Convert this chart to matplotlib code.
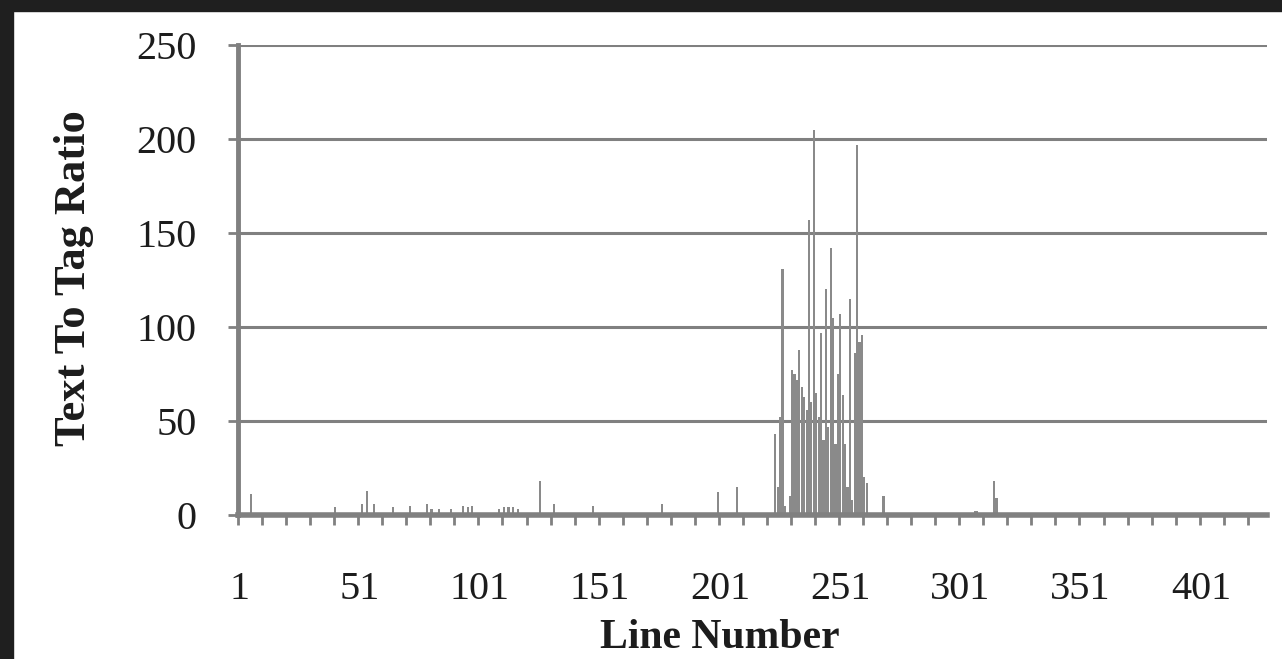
import matplotlib
matplotlib.use("Agg")
import matplotlib.pyplot as plt
from matplotlib.patches import Rectangle
import numpy as np

# ---- data -------------------------------------------------------------
n_lines = 428
# (line number, text-to-tag ratio) for non-zero lines
line_numbers = [6, 41, 52, 54, 57, 65, 72, 79, 81, 84, 89, 94, 96, 98, 109, 111,
                113, 115, 117, 126, 132, 148, 177, 200, 208,
                224, 225, 226, 227, 228, 230, 231, 232, 233, 234, 235, 236, 237,
                238, 239, 240, 241, 242, 243, 244, 245, 246, 247, 248, 249, 250,
                251, 252, 253, 254, 255, 256, 257, 258, 259, 260, 261, 262,
                269, 307, 308, 315, 316]
ratios = [11, 4, 6, 13, 6, 4, 5, 6, 3, 3, 3, 5, 4, 5, 3, 4,
          4, 4, 3, 18, 6, 5, 6, 12, 15,
          43, 15, 52, 131, 5, 10, 77, 75, 72, 88, 68, 63, 56,
          157, 60, 205, 65, 52, 97, 40, 120, 47, 142, 105, 38, 75,
          107, 64, 38, 15, 115, 8, 86, 197, 92, 96, 20, 17,
          10, 2, 2, 18, 9]
x_tick_labels = ["1", "51", "101", "151", "201", "251", "301", "351", "401"]
y_ticks = [0, 50, 100, 150, 200, 250]

values = np.zeros(n_lines)
for ln, r in zip(line_numbers, ratios):
    values[ln - 1] = r
lines = np.arange(1, n_lines + 1)

# ---- figure -----------------------------------------------------------
W, H = 1282, 659
fig = plt.figure(figsize=(W / 100, H / 100), dpi=100)
fig.patch.set_facecolor("white")
# dark frame on left and top
fig.patches.append(Rectangle((0, 0), 13 / W, 1, transform=fig.transFigure,
                             color="#1f1f1f", zorder=0))
fig.patches.append(Rectangle((0, 1 - 11 / H), 1, 11 / H, transform=fig.transFigure,
                             color="#1f1f1f", zorder=0))

ax = fig.add_axes([238 / W, 1 - 515 / H, (1267 - 238) / W, (515 - 45) / H])
gray = "#808080"
ax.bar(lines, values, width=0.9, color="#8a8a8a", linewidth=0, zorder=3)

ax.set_xlim(0.5, n_lines + 0.5)
ax.set_ylim(0, 250)

serif = ["Liberation Serif", "DejaVu Serif"]
txt = "#1c1c1c"

# y axis
ax.set_yticks(y_ticks)
ax.set_yticklabels([str(v) for v in y_ticks], family=serif, fontsize=29,
                   color=txt)
ax.tick_params(axis="y", direction="out", length=7, width=2, color=gray, pad=23)
ax.yaxis.grid(True, color=gray, linewidth=2.2, zorder=1)
ax.set_axisbelow(True)

# x axis: tick marks every 10 lines at category boundaries, labels every 50
ax.set_xticks(np.arange(0.5, n_lines, 10))
ax.set_xticklabels([])
ax.tick_params(axis="x", which="major", direction="out", length=7, width=2,
               color=gray)
label_pos = [int(s) for s in x_tick_labels]
ax.set_xticks(label_pos, minor=True)
ax.set_xticklabels(x_tick_labels, minor=True, family=serif, fontsize=29,
                   color=txt)
ax.tick_params(axis="x", which="minor", length=0, pad=40)

for side in ["top", "right"]:
    ax.spines[side].set_visible(False)
ax.spines["left"].set_color(gray)
ax.spines["left"].set_linewidth(3.5)
ax.spines["bottom"].set_color(gray)
ax.spines["bottom"].set_linewidth(4)
ax.spines["bottom"].set_zorder(4)

fig.text(74 / W, 1 - 278 / H, "Text To Tag Ratio", rotation=90, ha="center",
         va="center", family=serif, fontsize=32, fontweight="bold", color=txt)
fig.text(720 / W, 1 - 638 / H, "Line Number", ha="center", va="center",
         family=serif, fontsize=30, fontweight="bold", color=txt)

fig.savefig("out.png", dpi=100, facecolor=fig.get_facecolor())
